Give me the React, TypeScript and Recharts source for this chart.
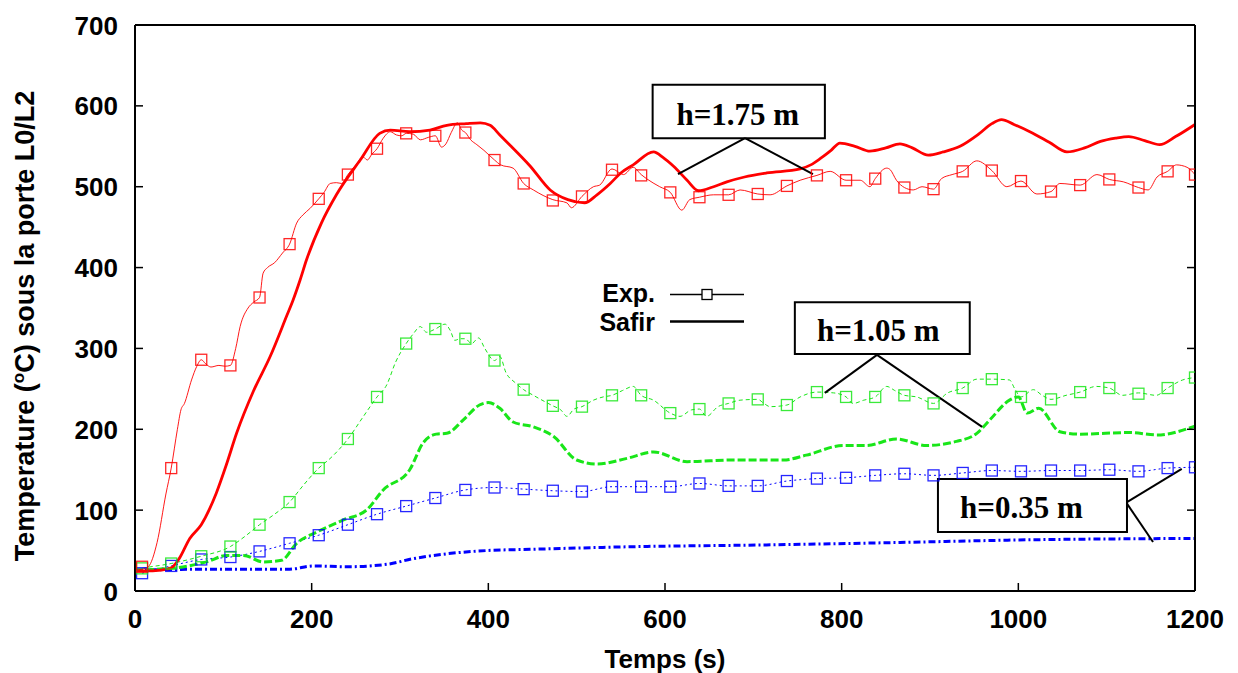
import React from 'react';
import { ComposedChart, Line, XAxis, YAxis, ReferenceArea, ReferenceLine } from 'recharts';

// ---------- axes ----------
const xTicks = [0, 200, 400, 600, 800, 1000, 1200];
const yTicks = [0, 100, 200, 300, 400, 500, 600, 700];

// ---------- marker times (s) of experimental series ----------
const markerTimes = [8, 41, 75, 108, 141, 175, 208, 241, 274, 307, 340, 374, 407, 440, 473, 506, 540, 573, 606, 639, 672, 705, 738, 772, 805, 838, 871, 904, 937, 970, 1003, 1037, 1070, 1103, 1136, 1169, 1200];

// marker values (°C)
const redExpMarks = [30, 152, 286, 279, 363, 429, 485, 515, 547, 566, 563, 567, 533, 504, 483, 488, 521, 514, 493, 487, 490, 491, 501, 514, 508, 510, 499, 497, 519, 520, 507, 494, 502, 509, 499, 519, 515];
const greenExpMarks = [28, 34, 43, 55, 82, 110, 152, 188, 240, 306, 324, 312, 285, 249, 229, 228, 242, 242, 220, 225, 232, 237, 230, 246, 240, 240, 242, 232, 251, 262, 240, 237, 246, 251, 244, 251, 264];
const blueExpMarks = [22, 31, 39, 42, 49, 59, 69, 82, 95, 105, 115, 125, 128, 126, 124, 123, 129, 129, 129, 133, 130, 130, 136, 139, 140, 143, 145, 143, 146, 149, 148, 149, 149, 150, 148, 152, 153];

// ---------- experimental curves [t, T] ----------
const redExp = [[0, 25], [8, 27], [15, 30], [25, 60], [35, 120], [41, 152], [48, 200], [52, 224], [56, 232], [64, 261], [70, 278], [75, 286], [80, 281], [86, 277], [95, 279], [102, 278], [108, 279], [114, 300], [119, 327], [128, 350], [134, 357], [141, 363], [145, 393], [150, 400], [158, 406], [167, 418], [175, 429], [183, 455], [190, 465], [198, 473], [208, 485], [214, 493], [221, 504], [228, 505], [234, 504], [241, 515], [250, 527], [258, 537], [263, 533], [268, 540], [274, 547], [281, 560], [289, 568], [296, 564], [302, 563], [307, 566], [315, 565], [323, 558], [332, 561], [340, 563], [347, 549], [352, 553], [358, 567], [365, 579], [370, 570], [374, 567], [380, 558], [387, 552], [395, 545], [407, 533], [414, 527], [428, 523], [440, 504], [451, 496], [473, 484], [489, 480], [494, 474], [506, 488], [519, 500], [526, 502], [540, 522], [553, 515], [564, 524], [573, 515], [579, 510], [594, 500], [606, 493], [619, 471], [628, 484], [639, 487], [655, 490], [672, 490], [685, 496], [705, 491], [719, 490], [738, 501], [753, 508], [772, 514], [787, 519], [805, 508], [821, 508], [832, 500], [838, 510], [851, 523], [855, 521], [862, 508], [871, 499], [881, 496], [891, 500], [904, 497], [913, 510], [925, 515], [937, 519], [953, 532], [970, 520], [987, 500], [1003, 507], [1021, 491], [1037, 494], [1047, 504], [1070, 502], [1089, 515], [1103, 509], [1119, 506], [1136, 499], [1147, 496], [1157, 512], [1169, 519], [1179, 527], [1191, 524], [1200, 515]];

const greenExp = [[0, 26], [8, 28], [41, 34], [75, 43], [108, 55], [125, 68], [141, 82], [158, 95], [175, 110], [190, 130], [208, 152], [222, 165], [241, 188], [258, 215], [274, 240], [285, 255], [295, 283], [307, 306], [315, 318], [323, 327], [330, 320], [340, 324], [351, 330], [357, 322], [362, 310], [368, 312], [374, 312], [381, 306], [389, 313], [396, 300], [407, 285], [413, 290], [420, 270], [430, 258], [440, 249], [451, 242], [473, 229], [482, 224], [489, 216], [497, 225], [506, 228], [519, 236], [530, 240], [540, 242], [552, 248], [564, 253], [573, 242], [587, 236], [606, 220], [617, 216], [630, 224], [639, 225], [647, 216], [660, 228], [672, 232], [685, 236], [705, 237], [712, 232], [719, 228], [738, 230], [753, 240], [772, 246], [791, 245], [805, 240], [813, 232], [825, 236], [838, 240], [851, 253], [860, 248], [871, 242], [885, 240], [904, 232], [920, 245], [937, 251], [953, 262], [970, 262], [990, 261], [996, 250], [1003, 240], [1017, 249], [1027, 242], [1037, 237], [1054, 242], [1070, 246], [1088, 253], [1103, 251], [1118, 242], [1136, 245], [1156, 242], [1169, 251], [1186, 261], [1200, 264]];

// ---------- SAFIR curves [t, T] ----------
const redSafir = [[0, 25], [20, 25], [40, 28], [50, 40], [62, 65], [75, 82], [92, 121], [104, 158], [115, 195], [134, 247], [153, 290], [172, 341], [179, 360], [187, 385], [194, 409], [211, 455], [228, 490], [255, 533], [277, 566], [289, 570], [311, 568], [334, 570], [353, 576], [375, 578], [391, 579], [402, 576], [413, 564], [424, 552], [447, 526], [470, 496], [490, 484], [509, 480], [523, 490], [538, 504], [550, 517], [564, 527], [587, 543], [598, 536], [610, 525], [625, 508], [638, 495], [655, 500], [670, 506], [690, 512], [715, 517], [753, 522], [765, 527], [776, 535], [788, 545], [798, 554], [815, 550], [832, 544], [850, 548], [866, 553], [880, 548], [898, 539], [915, 543], [934, 550], [955, 565], [970, 578], [981, 583], [995, 577], [1013, 568], [1035, 555], [1055, 543], [1075, 548], [1093, 556], [1110, 560], [1125, 562], [1143, 557], [1160, 552], [1178, 562], [1200, 577]];

const greenSafir = [[0, 26], [40, 28], [81, 36], [104, 44], [123, 44], [145, 36], [166, 38], [183, 59], [206, 73], [236, 88], [262, 100], [281, 125], [311, 150], [326, 183], [341, 194], [353, 195], [372, 212], [390, 230], [400, 233], [413, 226], [428, 209], [451, 203], [474, 191], [500, 162], [523, 157], [557, 164], [587, 172], [625, 160], [677, 162], [734, 162], [760, 168], [802, 180], [828, 180], [862, 188], [896, 180], [930, 185], [953, 195], [968, 212], [990, 236], [1000, 240], [1010, 220], [1023, 226], [1047, 197], [1070, 194], [1126, 196], [1157, 193], [1200, 204]];

const blueSafir = [[0, 26], [100, 27], [175, 27], [202, 31], [240, 30], [285, 33], [315, 40], [353, 46], [398, 50], [447, 51.5], [564, 54.8], [715, 57], [866, 60], [994, 63], [1200, 65]];

// ---------- annotations ----------
const boxes = [
  { label: 'h=1.75 m', x1: 586, x2: 781, y1: 560, y2: 626, dx: -1 },
  { label: 'h=1.05 m', x1: 747, x2: 945, y1: 293, y2: 357, dx: -4 },
  { label: 'h=0.35 m', x1: 909, x2: 1123, y1: 73, y2: 138.5, dx: -11 },
];
const leaders = [
  [[690.6, 560.2], [614.7, 515.7]],
  [[690.6, 560.2], [767.5, 515.7]],
  [[840, 292], [781, 245]],
  [[840, 292], [959, 203]],
  [[1123, 110], [1185, 151]],
  [[1123, 108], [1152.5, 60.6]],
];

const toPts = (a: number[][]) => a.map(([t, v]) => ({ t, v }));
const toMarks = (vals: number[]) => markerTimes.map((t, i) => ({ t, v: vals[i] }));

const RED = '#ff0000';
const GREEN = '#19e619';
const BLUE = '#0000ff';
const SANS = '"Liberation Sans", Arial, Helvetica, sans-serif';
const SERIF = '"Liberation Serif", "Times New Roman", serif';

const square = (color: string) => (props: any) => {
  const { cx, cy, index } = props;
  if (cx == null || cy == null) return <g key={index} />;
  return (
    <rect key={index} x={cx - 5.5} y={cy - 5.5} width={11} height={11} fill="none" stroke={color} strokeWidth={1.3} strokeOpacity={0.85} />
  );
};

const XTick = (props: any) => {
  const { x, y, payload } = props;
  return (
    <text x={x} y={y + 37} textAnchor="middle" fontFamily={SANS} fontWeight="bold" fontSize={26} fill="#000">
      {payload.value}
    </text>
  );
};
const YTick = (props: any) => {
  const { x, y, payload } = props;
  return (
    <text x={x} y={y + 9.5} textAnchor="end" fontFamily={SANS} fontWeight="bold" fontSize={26} fill="#000">
      {payload.value}
    </text>
  );
};
const NoTick = () => <g />;

const boxLabel = (text: string, dx: number) => (props: any) => {
  const vb = props.viewBox || {};
  return (
    <text x={vb.x + vb.width / 2 + dx} y={vb.y + vb.height / 2 + 13} textAnchor="middle" fontFamily={SERIF} fontWeight="bold" fontSize={31} fill="#000">
      {text}
    </text>
  );
};

export default function App() {
  const axisLine = { stroke: '#000', strokeWidth: 2 };
  const tickLine = { stroke: '#000', strokeWidth: 1.5 };
  return (
    <div style={{ position: 'absolute', left: 0, top: 0, width: 1238, height: 673, background: '#fff' }}>
      <ComposedChart width={1238} height={673} margin={{ top: 24, right: 42, bottom: 0, left: 0 }}>
        <XAxis xAxisId={0} dataKey="t" type="number" domain={[0, 1200]} ticks={xTicks} interval={0} height={82}
          axisLine={axisLine} tickLine={tickLine} tickSize={-8} tickMargin={8} tick={XTick} allowDataOverflow />
        <XAxis xAxisId="top" orientation="top" type="number" domain={[0, 1200]} ticks={xTicks} interval={0} height={1}
          axisLine={axisLine} tickLine={tickLine} tickSize={-8} tick={NoTick} allowDataOverflow />
        <YAxis yAxisId={0} type="number" domain={[0, 700]} ticks={yTicks} interval={0} width={135}
          axisLine={axisLine} tickLine={tickLine} tickSize={-8} tickMargin={25} tick={YTick} allowDataOverflow />
        <YAxis yAxisId="r" orientation="right" type="number" domain={[0, 700]} ticks={yTicks} interval={0} width={1}
          axisLine={axisLine} tickLine={tickLine} tickSize={-8} tick={NoTick} allowDataOverflow />

        {/* h = 0.35 m */}
        <Line data={toPts(blueSafir)} dataKey="v" type="monotone" stroke={BLUE} strokeWidth={3} strokeDasharray="7 3 2 3" dot={false} activeDot={false} isAnimationActive={false} />
        <Line data={toPts(markerTimes.map((t, i) => [t, blueExpMarks[i]]).concat([]))} dataKey="v" type="monotone" stroke={BLUE} strokeWidth={1} strokeDasharray="2 3" dot={false} activeDot={false} isAnimationActive={false} />
        <Line data={toMarks(blueExpMarks)} dataKey="v" stroke="none" dot={square(BLUE)} activeDot={false} isAnimationActive={false} />

        {/* h = 1.05 m */}
        <Line data={toPts(greenSafir)} dataKey="v" type="monotone" stroke={GREEN} strokeWidth={3} strokeDasharray="8 3" dot={false} activeDot={false} isAnimationActive={false} />
        <Line data={toPts(greenExp)} dataKey="v" type="monotone" stroke={GREEN} strokeWidth={1} strokeDasharray="4 3" dot={false} activeDot={false} isAnimationActive={false} />
        <Line data={toMarks(greenExpMarks)} dataKey="v" stroke="none" dot={square(GREEN)} activeDot={false} isAnimationActive={false} />

        {/* h = 1.75 m */}
        <Line data={toPts(redSafir)} dataKey="v" type="monotone" stroke={RED} strokeWidth={2.8} dot={false} activeDot={false} isAnimationActive={false} />
        <Line data={toPts(redExp)} dataKey="v" type="monotone" stroke={RED} strokeWidth={1} strokeOpacity={0.9} dot={false} activeDot={false} isAnimationActive={false} />
        <Line data={toMarks(redExpMarks)} dataKey="v" stroke="none" dot={square(RED)} activeDot={false} isAnimationActive={false} />

        {leaders.map((s, i) => (
          <ReferenceLine key={'l' + i} segment={[{ x: s[0][0], y: s[0][1] }, { x: s[1][0], y: s[1][1] }]} stroke="#000" strokeWidth={2} ifOverflow="visible" />
        ))}
        {boxes.map((b, i) => (
          <ReferenceArea key={'b' + i} x1={b.x1} x2={b.x2} y1={b.y1} y2={b.y2} fill="#fff" fillOpacity={1} stroke="#000" strokeWidth={2} ifOverflow="visible" label={boxLabel(b.label, b.dx)} />
        ))}
      </ComposedChart>

      <svg width={1238} height={673} style={{ position: 'absolute', left: 0, top: 0, pointerEvents: 'none' }}>
        {/* legend */}
        <text x={655} y={302} textAnchor="end" fontFamily={SANS} fontWeight="bold" fontSize={25} fill="#000">Exp.</text>
        <line x1={670} y1={294.5} x2={744} y2={294.5} stroke="#000" strokeWidth={1.5} />
        <rect x={702} y={289.5} width={10} height={10} fill="#fff" stroke="#000" strokeWidth={1.3} />
        <text x={655} y={331} textAnchor="end" fontFamily={SANS} fontWeight="bold" fontSize={25} fill="#000">Safir</text>
        <line x1={670} y1={321.5} x2={744} y2={321.5} stroke="#000" strokeWidth={2.6} />
        {/* axis titles */}
        <text x={665} y={668} textAnchor="middle" fontFamily={SANS} fontWeight="bold" fontSize={26} fill="#000">Temps (s)</text>
        <text transform="translate(34,326) rotate(-90)" textAnchor="middle" fontFamily={SANS} fontWeight="bold" fontSize={27} fill="#000">
          Temperature (<tspan dy={-10} fontSize={17}>o</tspan><tspan dy={10}>C) sous la porte L0/L2</tspan>
        </text>
      </svg>
    </div>
  );
}
